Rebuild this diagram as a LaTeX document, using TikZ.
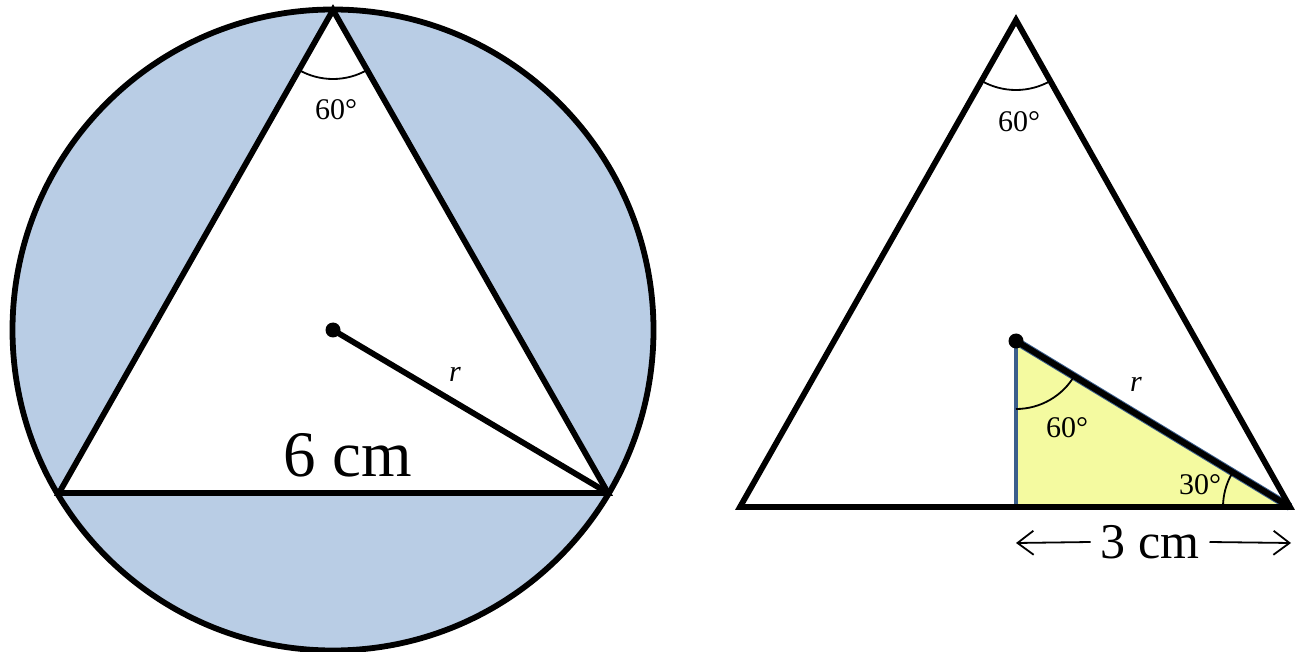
\documentclass[tikz,border=0pt]{standalone}
\usepackage{fontspec}
\setmainfont{Liberation Serif}
\usetikzlibrary{arrows.meta,calc}
\definecolor{skyfill}{HTML}{B9CDE5}
\definecolor{yelfill}{HTML}{F4FAA0}
\definecolor{edgeblue}{HTML}{3B5E8C}
\tikzset{
  thickline/.style={line width=5.8pt, line join=miter},
  anglearc/.style={line width=1.8pt},
  lbl/.style={inner sep=0pt, font=\fontsize{30}{34}\selectfont},
  biglbl/.style={inner sep=0pt, font=\fontsize{65}{72}\selectfont},
  medlbl/.style={inner sep=0pt, font=\fontsize{50}{56}\selectfont},
  dimarrow/.style={line width=1.8pt, -{Straight Barb[length=16pt,width=24pt,line width=1.8pt]}},
}
\begin{document}
\begin{tikzpicture}[x=1pt,y=-1pt]
\useasboundingbox (0,0) rectangle (1304,652);
% ---------- left figure ----------
\coordinate (O) at (333,330);
\coordinate (A) at (333,10);
\coordinate (B) at (59,493);
\coordinate (C) at (608,493);
\fill[skyfill] (O) circle [radius=320.5];
\fill[white] (A) -- (B) -- (C) -- cycle;
\draw[thickline] (O) circle [radius=320.5];
\draw[thickline] (A) -- (B) -- (C) -- cycle;
\draw[thickline] (O) -- (C);
\fill (O) circle [radius=7.5];
% (y axis points down: code angle = minus the visual angle)
\draw[anglearc] ($(A)+(120:69)$) arc [start angle=120, end angle=60, radius=69];
\node[lbl] (a1) at (336,110) {60°};
\node[lbl] (rl) at (455,374) {\itshape r};
\node[biglbl] (six) at (348,455) {6 cm};
% ---------- right figure ----------
\coordinate (P) at (1016,20);
\coordinate (Q) at (740,507);
\coordinate (R) at (1290,507);
\coordinate (M) at (1016,507);
\coordinate (D) at (1016,341);
\fill[yelfill] (D) -- (M) -- (R) -- cycle;
\draw[edgeblue, line width=4.5pt] (D) -- (M);
\draw[edgeblue, line width=8pt] (D) -- (R);
\draw[line width=6pt] (D) -- (R);
\draw[thickline] (P) -- (Q) -- (R) -- cycle;
\fill (D) circle [radius=7.5];
\draw[anglearc] ($(P)+(120:70)$) arc [start angle=120, end angle=60, radius=70];
\draw[anglearc] ($(D)+(90:68)$) arc [start angle=90, end angle=30, radius=68];
\draw[anglearc] ($(R)+(180:67)$) arc [start angle=180, end angle=210, radius=67];
\node[lbl] (a2) at (1019,122) {60°};
\node[lbl] (a3) at (1067,428) {60°};
\node[lbl] (a4) at (1200,485) {30°};
\node[lbl] (r2) at (1136,384) {\itshape r};
\node[medlbl] (three) at (1150,542) {3 cm};
\coordinate (Lend) at (1016,543);
\coordinate (Rend) at (1291,543);
\draw[dimarrow] (three.west) ++(-10,0) -- (Lend);
\draw[dimarrow] (three.east) ++(10,0) -- (Rend);
\end{tikzpicture}
\end{document}
